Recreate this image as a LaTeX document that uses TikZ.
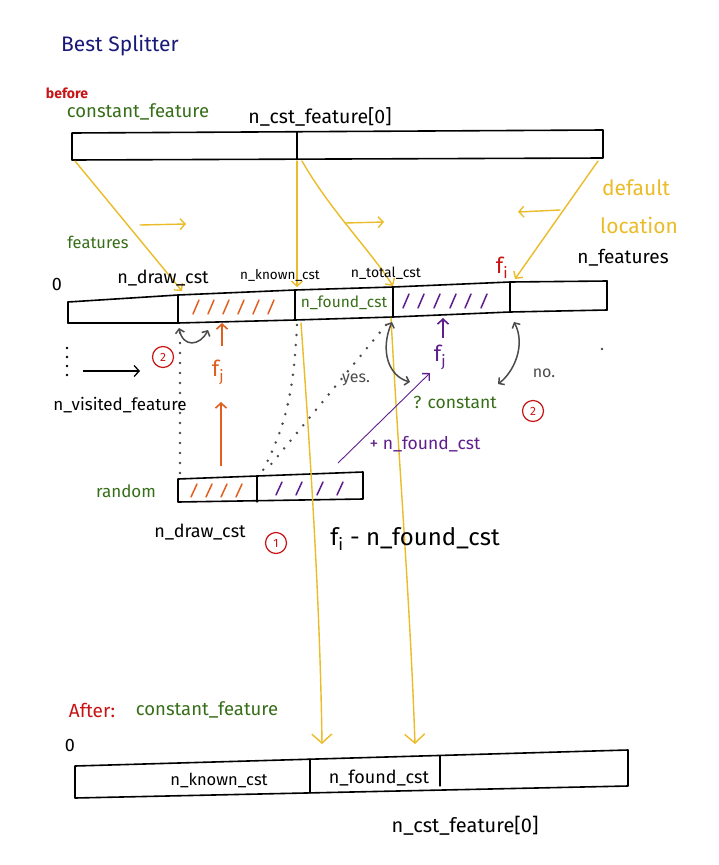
\documentclass[tikz,border=0pt]{standalone}
\usepackage{fontspec}
\setmainfont{Fira Sans}
\usetikzlibrary{arrows.meta}
\definecolor{hnavy}{RGB}{25,25,120}
\definecolor{hred}{RGB}{200,20,20}
\definecolor{hgreen}{RGB}{55,110,25}
\definecolor{hyellow}{RGB}{235,188,40}
\definecolor{horange}{RGB}{225,95,30}
\definecolor{hpurple}{RGB}{95,30,140}
\definecolor{hgrey}{RGB}{75,75,75}
\newcommand\fsz[1]{\fontsize{#1}{#1}\selectfont}
\begin{document}
\begin{tikzpicture}[x=1pt,y=-1pt,
  lbl/.style={inner sep=0pt, anchor=center},
  bar/.style={line width=1.6pt, line join=round, line cap=round},
  thinbar/.style={line width=1.2pt, line cap=round},
  yl/.style={draw=hyellow, line width=1.4pt, line cap=round},
  barb/.style={-{Straight Barb[length=5pt,width=11pt]}},
  dbarb/.style={{Straight Barb[length=4pt,width=9pt]}-{Straight Barb[length=4pt,width=9pt]}},
  dotline/.style={draw=hgrey, line width=2.8pt, line cap=round, dash pattern=on 0pt off 10pt},
  hatch/.style={line width=1.5pt, line cap=round},
  redc/.style={circle, draw=hred, line width=1.2pt, text=hred, inner sep=0pt, minimum size=21pt, font=\fsz{12}}
]
\useasboundingbox (0,0) rectangle (718,865);
\fill[white] (0,0) rectangle (718,865);

% ---------- top bar ----------
\coordinate (tTL) at (72,133); \coordinate (tTR) at (603,130);
\coordinate (tBL) at (72,160); \coordinate (tBR) at (603,158);
\coordinate (tDT) at (297,132); \coordinate (tDB) at (297,159);
\draw[bar] (tTL) -- (tTR) -- (tBR) -- (tBL) -- cycle;
\draw[thinbar] (tDT) -- (tDB);

% ---------- middle bar ----------
\coordinate (T0) at (68,302);  \coordinate (B0) at (68,323);
\coordinate (T1) at (178,295); \coordinate (B1) at (178,323);
\coordinate (T2) at (295,290); \coordinate (B2) at (295,320);
\coordinate (T3) at (393,287); \coordinate (B3) at (393,317);
\coordinate (T4) at (510,282); \coordinate (B4) at (510,312);
\coordinate (T5) at (607,281); \coordinate (B5) at (607,310);
\draw[bar] (T0)--(T1)--(T2)--(T3)--(T4)--(T5);
\draw[bar] (B0)--(B1)--(B2)--(B3)--(B4)--(B5);
\foreach \i in {0,...,5} \draw[bar] (T\i)--(B\i);
\foreach \x in {196,211,226,241,256,271} \draw[hatch, horange] (\x-3,314) -- (\x+3,300);
\foreach \x in {406,421,437,453,468,484} \draw[hatch, hpurple] (\x-3,308) -- (\x+3,294);

% ---------- random box ----------
\coordinate (rTL) at (178,479); \coordinate (rTR) at (363,472);
\coordinate (rBL) at (178,502); \coordinate (rBR) at (363,499);
\coordinate (rDT) at (257,476); \coordinate (rDB) at (257,502);
\draw[bar] (rTL) -- (rTR) -- (rBR) -- (rBL) -- cycle;
\draw[thinbar] (rDT) -- (rDB);
\foreach \x in {194,209,224,239} \draw[hatch, horange] (\x-3,497) -- (\x+3,484);
\foreach \x in {279,299,320,340} \draw[hatch, hpurple] (\x-3,495) -- (\x+3,482);

% ---------- bottom bar ----------
\coordinate (bTL) at (75,766); \coordinate (bTR) at (628,750);
\coordinate (bBL) at (75,798); \coordinate (bBR) at (628,786);
\coordinate (bD1T) at (310,759); \coordinate (bD1B) at (310,793);
\coordinate (bD2T) at (440,756); \coordinate (bD2B) at (440,786);
\draw[bar] (bTL) -- (bTR) -- (bBR) -- (bBL) -- cycle;
\draw[thinbar] (bD1T) -- (bD1B);
\draw[thinbar] (bD2T) -- (bD2B);

% ---------- yellow connectors ----------
\coordinate (y1s) at (75,161);  \coordinate (y1e) at (182,291);
\coordinate (y2s) at (297,161); \coordinate (y2e) at (297,287);
\coordinate (y3s) at (302,161); \coordinate (y3e) at (393,286);
\coordinate (y4s) at (598,161); \coordinate (y4e) at (515,279);
\coordinate (y5s) at (301,323); \coordinate (y5e) at (322,744);
\coordinate (y6s) at (391,318); \coordinate (y6e) at (415,744);
\draw[yl, barb] (y1s) -- (y1e);
\draw[yl, barb] (y2s) -- (y2e);
\draw[yl, barb] (y3s) .. controls (330,210) and (370,250) .. (y3e);
\draw[yl, barb] (y4s) -- (y4e);
\draw[yl, -{Straight Barb[length=9pt,width=20pt]}] (y5s) .. controls (310,450) and (320,600) .. (y5e);
\draw[yl, -{Straight Barb[length=9pt,width=20pt]}] (y6s) .. controls (398,450) and (410,600) .. (y6e);
\coordinate (ya1s) at (140,225); \coordinate (ya1e) at (186,224);
\coordinate (ya2s) at (345,223); \coordinate (ya2e) at (384,222);
\coordinate (ya3s) at (560,210); \coordinate (ya3e) at (518,212);
\draw[yl, barb] (ya1s) -- (ya1e);
\draw[yl, barb] (ya2s) -- (ya2e);
\draw[yl, barb] (ya3s) -- (ya3e);

% ---------- dotted guides ----------
\coordinate (d1s) at (180,333); \coordinate (d1e) at (180,474);
\coordinate (d2s) at (297,325); \coordinate (d2e) at (261,474);
\coordinate (d3s) at (386,325); \coordinate (d3e) at (268,468);
\draw[dotline] (d1s) -- (d1e);
\draw[dotline] (d2s) .. controls (294,380) and (290,420) .. (d2e);
\draw[dotline] (d3s) -- (d3e);
\fill[hgrey] (602,349) circle (1.3pt);

% ---------- grey swap arrows ----------
\coordinate (g1s) at (179,328); \coordinate (g1e) at (208,330);
\coordinate (g2s) at (392,322); \coordinate (g2e) at (410,382);
\coordinate (g3s) at (514,322); \coordinate (g3e) at (498,384);
\draw[hgrey, line width=1.5pt, dbarb] (g1s) .. controls (183,348) and (200,346) .. (g1e);
\draw[hgrey, line width=1.5pt, dbarb] (g2s) .. controls (380,350) and (388,376) .. (g2e);
\draw[hgrey, line width=1.5pt, dbarb] (g3s) .. controls (526,345) and (514,372) .. (g3e);

% ---------- other arrows ----------
\coordinate (o1s) at (222,346); \coordinate (o1e) at (222,323);
\coordinate (o2s) at (221,466); \coordinate (o2e) at (221,402);
\coordinate (p1s) at (443,338); \coordinate (p1e) at (443,318);
\coordinate (n1s) at (338,463); \coordinate (n1e) at (430,373);
\coordinate (k1s) at (83,371);  \coordinate (k1e) at (140,371);
\draw[horange, line width=1.6pt, barb] (o1s) -- (o1e);
\draw[horange, line width=1.6pt, barb] (o2s) -- (o2e);
\draw[hpurple, line width=1.6pt, barb] (p1s) -- (p1e);
\draw[hpurple, line width=0.9pt, -{Straight Barb[length=5pt,width=10pt,line width=1.4pt]}] (n1s) -- (n1e);
\draw[black, line width=1.3pt, barb] (k1s) -- (k1e);
\foreach \y in {348,357,366,375} \fill (67,\y) circle (1.4pt);

% ---------- labels ----------
\node[lbl, text=hnavy, font=\fsz{21}] (title) at (120,46) {Best Splitter};
\node[lbl, text=hred, font=\fsz{14}\bfseries] (before) at (67,93) {before};
\node[lbl, text=hgreen, font=\fsz{18.5}] (cf1) at (138,112) {constant\_feature};
\node[lbl, font=\fsz{19.5}] (ncst1) at (320,117) {n\_cst\_feature[0]};
\node[lbl, text=hyellow, font=\fsz{21}] (deflt) at (636,188) {default};
\node[lbl, text=hyellow, font=\fsz{21}] (loc) at (639,225) {location};
\node[lbl, text=hgreen, font=\fsz{16.5}] (feat) at (98,242) {features};
\node[lbl, font=\fsz{18}] (zero1) at (57,284) {0};
\node[lbl, font=\fsz{18}] (ndraw1) at (163,278) {n\_draw\_cst};
\node[lbl, font=\fsz{13.5}] (nknown1) at (280,275) {n\_known\_cst};
\node[lbl, font=\fsz{14}] (ntotal) at (386,273) {n\_total\_cst};
\node[lbl, text=hred, font=\fsz{22}] (fi) at (502,268) {f\textsubscript{i}};
\node[lbl, font=\fsz{19}] (nfeat) at (623,258) {n\_features};
\node[lbl, text=hgreen, font=\fsz{15.5}] (nfound1) at (344,303) {n\_found\_cst};
\node[lbl, text=horange, font=\fsz{22}] (fjo) at (218,372) {f\textsubscript{j}};
\node[lbl, text=hpurple, font=\fsz{22}] (fjp) at (440,357) {f\textsubscript{j}};
\node[lbl, text=hgrey, font=\fsz{16}] (yes) at (356,380) {yes.};
\node[lbl, text=hgrey, font=\fsz{16}] (no) at (544,373) {no.};
\node[lbl, text=hgreen, font=\fsz{17.5}] (qc) at (455,402) {? constant};
\node[lbl, font=\fsz{17}] (nvis) at (120,405) {n\_visited\_feature};
\node[lbl, text=hpurple, font=\fsz{17.5}] (plus) at (425,444) {+ n\_found\_cst};
\node[lbl, text=hgreen, font=\fsz{17}] (random) at (126,491) {random};
\node[lbl, font=\fsz{18}] (ndraw2) at (200,532) {n\_draw\_cst};
\node[lbl, font=\fsz{24}] (fimin) at (415,539) {f\textsubscript{i} - n\_found\_cst};
\node[lbl, text=hred, font=\fsz{19}] (after) at (92,710) {After:};
\node[lbl, text=hgreen, font=\fsz{18.5}] (cf2) at (207,710) {constant\_feature};
\node[lbl, font=\fsz{18}] (zero2) at (70,745) {0};
\node[lbl, font=\fsz{16.5}] (nknown2) at (219,780) {n\_known\_cst};
\node[lbl, font=\fsz{18}] (nfound2) at (379,778) {n\_found\_cst};
\node[lbl, font=\fsz{20}] (ncst2) at (465,826) {n\_cst\_feature[0]};
\node[redc] (c2a) at (163,357) {2};
\node[redc] (c2b) at (533,411) {2};
\node[redc] (c1) at (276,543) {1};
\end{tikzpicture}
\end{document}
